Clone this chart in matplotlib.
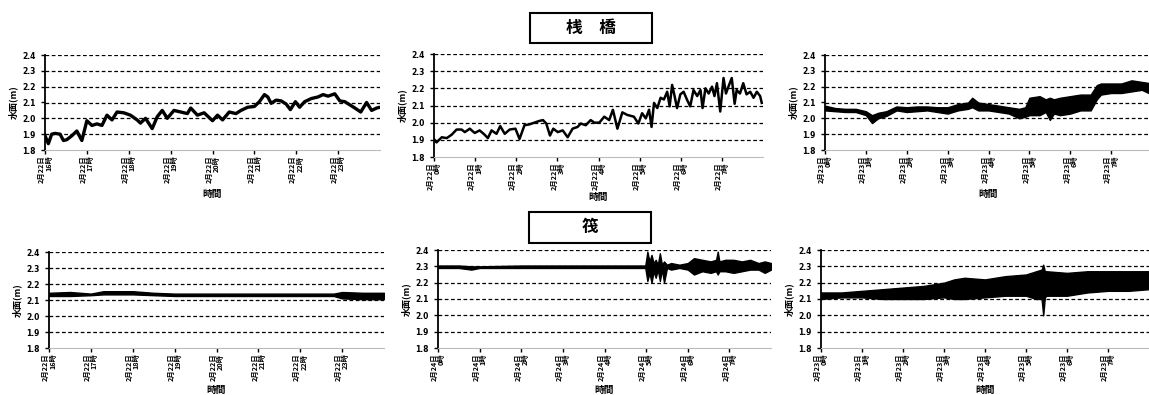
import numpy as np
import matplotlib.pyplot as plt
from matplotlib.patches import Rectangle

plt.rcParams['font.family'] = ['Noto Sans CJK JP', 'DejaVu Sans']

# ---- 桟橋 ----
# 2/22 16時-24時 (hours from 16:00)
t1 = [0.00, 0.08, 0.16, 0.24, 0.36, 0.44, 0.52, 0.64, 0.76, 0.88, 1.00, 1.12, 1.24, 1.36,
      1.48, 1.60, 1.72, 1.88, 2.04, 2.20, 2.28, 2.40, 2.56, 2.68, 2.80, 2.92, 3.08, 3.24,
      3.40, 3.48, 3.64, 3.80, 4.00, 4.12, 4.24, 4.40, 4.56, 4.68, 4.84, 5.00, 5.12, 5.24,
      5.32, 5.40, 5.52, 5.64, 5.76, 5.86, 5.98, 6.08, 6.20, 6.36, 6.52, 6.64, 6.76, 6.92,
      7.04, 7.16, 7.28, 7.40, 7.54, 7.68, 7.80, 7.92, 8.00]
v1 = [1.89, 1.84, 1.90, 1.905, 1.90, 1.86, 1.865, 1.89, 1.92, 1.86, 1.985, 1.955, 1.965, 1.955,
      2.02, 1.99, 2.04, 2.035, 2.02, 1.99, 1.97, 2.00, 1.935, 2.01, 2.05, 2.00, 2.05, 2.04,
      2.03, 2.065, 2.02, 2.035, 1.985, 2.02, 1.99, 2.04, 2.03, 2.05, 2.07, 2.075, 2.105, 2.15,
      2.135, 2.095, 2.115, 2.11, 2.09, 2.055, 2.105, 2.07, 2.105, 2.125, 2.135, 2.15, 2.14, 2.155,
      2.11, 2.105, 2.085, 2.065, 2.04, 2.10, 2.05, 2.065, 2.07]

# 2/22 0時-8時
t2 = [0.00, 0.06, 0.19, 0.31, 0.43, 0.55, 0.67, 0.75, 0.87, 0.99, 1.11, 1.23, 1.31, 1.40,
      1.52, 1.61, 1.72, 1.84, 1.98, 2.08, 2.20, 2.32, 2.44, 2.56, 2.65, 2.73, 2.82, 2.90,
      3.01, 3.13, 3.25, 3.37, 3.49, 3.57, 3.69, 3.81, 3.90, 4.02, 4.14, 4.26, 4.35, 4.46,
      4.58, 4.70, 4.86, 4.97, 5.06, 5.15, 5.23, 5.29, 5.35, 5.43, 5.51, 5.59, 5.67, 5.73,
      5.79, 5.85, 5.91, 5.99, 6.07, 6.15, 6.23, 6.31, 6.40, 6.48, 6.53, 6.60, 6.68, 6.76,
      6.82, 6.88, 6.96, 7.04, 7.10, 7.16, 7.24, 7.31, 7.36, 7.44, 7.52, 7.60, 7.69, 7.77,
      7.85, 7.93, 7.97]
v2 = [1.905, 1.885, 1.915, 1.91, 1.93, 1.96, 1.96, 1.945, 1.965, 1.94, 1.955, 1.93, 1.91, 1.955,
      1.935, 1.98, 1.935, 1.96, 1.965, 1.905, 1.985, 1.99, 2.00, 2.01, 2.015, 1.995, 1.925, 1.965,
      1.945, 1.955, 1.915, 1.965, 1.975, 1.995, 1.985, 2.015, 2.00, 2.00, 2.035, 2.015, 2.075, 1.965,
      2.06, 2.045, 2.035, 1.995, 2.055, 2.025, 2.075, 1.975, 2.115, 2.085, 2.145, 2.135, 2.18, 2.095,
      2.22, 2.155, 2.085, 2.165, 2.18, 2.135, 2.095, 2.19, 2.155, 2.19, 2.085, 2.20, 2.17, 2.21,
      2.155, 2.23, 2.065, 2.26, 2.17, 2.21, 2.26, 2.11, 2.19, 2.17, 2.23, 2.165, 2.18, 2.145,
      2.18, 2.155, 2.115]

# 2/23 0時-8時 (envelope of dense record)
t3 = [0.0, 0.25, 0.5, 0.75, 1.0, 1.15, 1.3, 1.5, 1.75, 2.0, 2.25, 2.5, 2.75, 3.0, 3.25, 3.5,
      3.6, 3.75, 4.0, 4.25, 4.5, 4.75, 4.9, 5.0, 5.25, 5.4, 5.5, 5.6, 5.75, 6.0, 6.25, 6.5,
      6.65, 6.75, 7.0, 7.25, 7.5, 7.75, 8.0]
hi3 = [2.08, 2.065, 2.06, 2.06, 2.045, 2.02, 2.035, 2.045, 2.075, 2.07, 2.075, 2.075, 2.07, 2.07,
       2.09, 2.10, 2.13, 2.10, 2.09, 2.08, 2.07, 2.06, 2.07, 2.13, 2.14, 2.12, 2.13, 2.12, 2.13,
       2.14, 2.15, 2.15, 2.21, 2.22, 2.22, 2.22, 2.24, 2.23, 2.22]
lo3 = [2.05, 2.045, 2.04, 2.04, 2.02, 1.97, 2.00, 2.015, 2.05, 2.04, 2.045, 2.05, 2.04, 2.03,
       2.05, 2.06, 2.07, 2.05, 2.05, 2.04, 2.03, 2.00, 2.01, 2.02, 2.02, 2.04, 1.99, 2.03, 2.02,
       2.03, 2.05, 2.05, 2.12, 2.15, 2.16, 2.16, 2.17, 2.18, 2.15]

# ---- 筏 ----
# 2/22 16時-24時
t4 = [0.0, 0.5, 1.0, 1.3, 2.0, 2.5, 3.0, 4.0, 5.0, 6.0, 6.8, 7.0, 7.5, 8.0]
hi4 = [2.145, 2.15, 2.14, 2.155, 2.155, 2.145, 2.14, 2.14, 2.14, 2.14, 2.14, 2.15, 2.145, 2.145]
lo4 = [2.125, 2.125, 2.13, 2.135, 2.135, 2.13, 2.125, 2.125, 2.125, 2.125, 2.125, 2.11, 2.105, 2.105]

# 2/24 0時-8時
t5 = [0.0, 0.5, 0.8, 1.0, 2.0, 3.0, 4.0, 4.98, 5.03, 5.08, 5.13, 5.18, 5.23, 5.28, 5.33,
      5.38, 5.43, 5.5, 5.6, 5.8, 6.0, 6.15, 6.35, 6.55, 6.68, 6.72, 6.76, 6.9, 7.1, 7.3,
      7.5, 7.7, 7.85, 8.0]
hi5 = [2.305, 2.305, 2.30, 2.30, 2.305, 2.305, 2.305, 2.305, 2.39, 2.33, 2.37, 2.32, 2.34, 2.31,
       2.38, 2.31, 2.33, 2.31, 2.32, 2.31, 2.32, 2.35, 2.34, 2.33, 2.34, 2.39, 2.33, 2.34, 2.34,
       2.33, 2.34, 2.32, 2.33, 2.32]
lo5 = [2.29, 2.29, 2.28, 2.29, 2.29, 2.29, 2.29, 2.29, 2.21, 2.26, 2.20, 2.27, 2.23, 2.28,
       2.21, 2.28, 2.20, 2.29, 2.28, 2.29, 2.28, 2.25, 2.27, 2.26, 2.27, 2.25, 2.27, 2.27, 2.26,
       2.27, 2.28, 2.28, 2.26, 2.28]

# 2/23 0時-8時
t6 = [0.0, 0.5, 1.0, 1.5, 2.0, 2.5, 3.0, 3.25, 3.5, 4.0, 4.5, 5.0, 5.25, 5.38, 5.42, 5.46,
      5.5, 6.0, 6.5, 7.0, 7.5, 8.0]
hi6 = [2.14, 2.14, 2.15, 2.16, 2.17, 2.18, 2.20, 2.22, 2.23, 2.22, 2.24, 2.25, 2.27, 2.28, 2.31,
       2.27, 2.27, 2.26, 2.27, 2.27, 2.27, 2.27]
lo6 = [2.10, 2.11, 2.11, 2.10, 2.10, 2.10, 2.11, 2.10, 2.10, 2.11, 2.12, 2.12, 2.10, 2.10, 2.00,
       2.11, 2.12, 2.12, 2.14, 2.15, 2.15, 2.16]

days = ["2月22日", "2月22日", "2月23日", "2月22日", "2月24日", "2月23日"]
start_hours = [16, 0, 0, 16, 0, 0]

fig = plt.figure(figsize=(11.49, 3.95), dpi=100)
W, H = 1149, 395

def px_axes(l, t, r, b):
    return fig.add_axes([l / W, 1 - b / H, (r - l) / W, (b - t) / H])

boxes = [(45, 55, 380, 150), (434, 54, 763, 157), (825, 55, 1152, 150),
         (49, 252, 384, 348), (438, 250, 771, 348), (821, 250, 1149, 348)]
xlabel_y = [189, 192, 189, 385, 385, 385]
axes = [px_axes(*b) for b in boxes]

def style(ax, day, h0, box, ly):
    ax.set_xlim(0, 8)
    ax.set_ylim(1.8, 2.4)
    ax.set_yticks(np.arange(1.8, 2.41, 0.1))
    ax.set_yticklabels(["%.1f" % y for y in np.arange(1.8, 2.41, 0.1)],
                       fontsize=5.5, fontweight="bold", family="DejaVu Sans")
    ax.set_xticks(range(8))
    ax.set_xticklabels([f"{day}\n{h0 + i}時" for i in range(8)], rotation=90,
                       fontsize=5.2, fontweight="bold", ha="center", va="top",
                       multialignment="right", linespacing=1.0)
    for y in np.arange(1.9, 2.41, 0.1):
        ax.axhline(y, color="black", lw=0.9, ls=(0, (3, 2)), zorder=1)
    for s in ["top", "right"]:
        ax.spines[s].set_visible(False)
    ax.spines["left"].set_linewidth(1.3)
    ax.spines["bottom"].set_color("#bbbbbb")
    ax.spines["bottom"].set_linewidth(0.8)
    ax.tick_params(axis="y", length=3, width=1, pad=4)
    ax.tick_params(axis="x", length=3, width=1, pad=1)
    ax.set_ylabel("水面(m)", fontsize=6.5, fontweight="bold", labelpad=3)
    ax.set_xlabel("時間", fontsize=7, fontweight="bold")
    ax.xaxis.set_label_coords((box[0] + box[2]) / 2 / W, 1 - ly / H,
                              transform=fig.transFigure)

for ax, d, h0, b, ly in zip(axes, days, start_hours, boxes, xlabel_y):
    style(ax, d, h0, b, ly)

axes[0].plot(t1, v1, color="black", lw=2.4, zorder=3)
axes[1].plot(t2, v2, color="black", lw=1.8, zorder=3)
for ax, t, hi, lo in [(axes[2], t3, hi3, lo3), (axes[3], t4, hi4, lo4),
                      (axes[4], t5, hi5, lo5), (axes[5], t6, hi6, lo6)]:
    ax.fill_between(t, lo, hi, color="black", lw=1.0, edgecolor="black", zorder=3)

# title boxes
for (l, t, r, b), txt in [((530, 13, 652, 43), "桟　橋"), ((529, 212, 651, 243), "筏")]:
    fig.patches.append(Rectangle((l / W, 1 - b / H), (r - l) / W, (b - t) / H,
                                 transform=fig.transFigure, fill=False,
                                 edgecolor="black", lw=1.5))
    fig.text((l + r) / 2 / W, 1 - (t + b) / 2 / H, txt, ha="center", va="center",
             fontsize=12, fontweight="bold")

fig.savefig("out.png", dpi=100)
